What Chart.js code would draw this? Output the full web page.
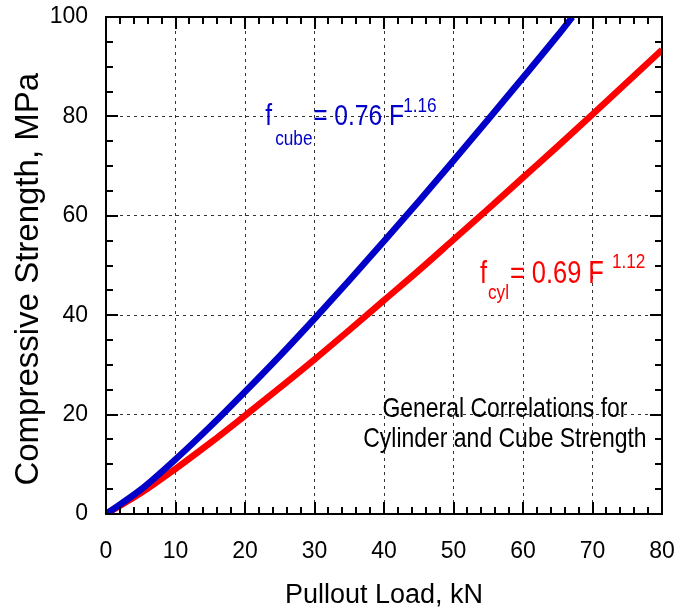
<!DOCTYPE html>
<html>
<head>
<meta charset="utf-8">
<title>Pullout load vs compressive strength</title>
<script src="https://cdn.jsdelivr.net/npm/chart.js@4.4.1/dist/chart.umd.min.js"></script>
<style>
  html, body { margin: 0; padding: 0; background: #fff; }
  #wrap { width: 687px; height: 609px; position: relative; }
</style>
</head>
<body>
<div id="wrap"><canvas id="chart"></canvas></div>
<script>
// === Data ===
const cubeLoad     = [0, 5, 10, 15, 20, 25, 30, 35, 40, 45, 50, 55, 60, 65, 67.1];
const cubeStrength = [0, 4.9, 11.0, 17.6, 24.6, 31.8, 39.3, 47.0, 54.9, 62.9, 71.1, 79.4, 87.8, 96.3, 100];

const cylLoad      = [0, 5, 10, 15, 20, 25, 30, 35, 40, 45, 50, 55, 60, 65, 70, 75, 80];
const cylStrength  = [0, 4.2, 9.1, 14.3, 19.8, 25.4, 31.1, 37.0, 43.0, 49.0, 55.2, 61.4, 67.7, 74.0, 80.4, 86.9, 93.4];

const xTitle = 'Pullout Load, kN';
const yTitle = 'Compressive Strength, MPa';
const noteLines = ['General Correlations for', 'Cylinder and Cube Strength'];

const BLUE = '#0000c8';
const RED = '#ff0000';
const SANS = "'Liberation Sans', Arial, sans-serif";
const SQUEEZE = 0.82; // the original text is a narrow face

const toPoints = (xs, ys) => xs.map((x, i) => ({ x, y: ys[i] }));

// === Helpers ===
function gridColor(ctx) {
  const s = ctx.scale;
  if (!ctx.tick) return 'transparent';
  return (ctx.tick.value <= s.min || ctx.tick.value >= s.max) ? 'transparent' : '#333';
}

// frame + inward tick marks on all four sides
const frameTicks = {
  id: 'frameTicks',
  afterDatasetsDraw(chart) {
    const { ctx, chartArea: a, scales: { x, y } } = chart;
    ctx.save();
    ctx.strokeStyle = '#000';
    ctx.lineWidth = 2;
    ctx.beginPath();
    for (let v = x.min; v <= x.max; v += 2) {
      const px = Math.round(x.getPixelForValue(v));
      const len = v % 10 === 0 ? 12 : 7;
      ctx.moveTo(px, a.bottom); ctx.lineTo(px, a.bottom - len);
      ctx.moveTo(px, a.top); ctx.lineTo(px, a.top + len);
    }
    for (let v = y.min; v <= y.max; v += 5) {
      const py = Math.round(y.getPixelForValue(v));
      const len = v % 20 === 0 ? 12 : 7;
      ctx.moveTo(a.left, py); ctx.lineTo(a.left + len, py);
      ctx.moveTo(a.right, py); ctx.lineTo(a.right - len, py);
    }
    ctx.stroke();
    ctx.strokeRect(a.left, a.top, a.right - a.left, a.bottom - a.top);
    ctx.restore();
  }
};

// narrow text: squeeze horizontally
function narrowText(ctx, txt, px, py, size, align) {
  ctx.save();
  ctx.translate(px, py);
  ctx.scale(SQUEEZE, 1);
  ctx.font = `${size}px ${SANS}`;
  ctx.textAlign = align || 'left';
  ctx.textBaseline = 'alphabetic';
  ctx.fillText(txt, 0, 0);
  ctx.restore();
}

function formula(ctx, x0, y0, color, base, sub, rest, sup, o) {
  ctx.fillStyle = color;
  narrowText(ctx, base, x0, y0, o.big);
  narrowText(ctx, rest, x0 + o.restDx, y0, o.big);
  narrowText(ctx, sub, x0 + o.subDx, y0 + o.subDy, o.small);
  narrowText(ctx, sup, x0 + o.supDx, y0 + o.supDy, o.small);
}

const notes = {
  id: 'notes',
  afterDatasetsDraw(chart) {
    const { ctx, scales: { x, y } } = chart;
    ctx.save();
    formula(ctx, x.getPixelForValue(22.9), y.getPixelForValue(78.3), BLUE,
      'f', 'cube', '= 0.76 F', '1.16',
      { big: 30, small: 21, subDx: 10, subDy: 20, restDx: 48, supDx: 138, supDy: -13 });
    formula(ctx, x.getPixelForValue(53.8), y.getPixelForValue(46.5), RED,
      'f', 'cyl', '= 0.69 F', '1.12',
      { big: 31, small: 21, subDx: 8, subDy: 16, restDx: 30, supDx: 132, supDy: -15 });

    ctx.fillStyle = '#000';
    narrowText(ctx, noteLines[0], x.getPixelForValue(57.4), y.getPixelForValue(19.5), 28, 'center');
    narrowText(ctx, noteLines[1], x.getPixelForValue(57.4), y.getPixelForValue(13.4), 28, 'center');
    ctx.restore();
  }
};

// === Chart ===
new Chart(document.getElementById('chart'), {
  type: 'line',
  data: {
    datasets: [
      { label: 'cube', data: toPoints(cubeLoad, cubeStrength), borderColor: BLUE, borderWidth: 6.5, pointRadius: 0, cubicInterpolationMode: 'monotone', clip: 0 },
      { label: 'cyl', data: toPoints(cylLoad, cylStrength), borderColor: RED, borderWidth: 6.5, pointRadius: 0, cubicInterpolationMode: 'monotone', clip: 0 }
    ]
  },
  options: {
    responsive: true,
    maintainAspectRatio: false,
    animation: false,
    layout: { padding: { top: 17, right: 25, left: 0, bottom: 0 } },
    plugins: { legend: { display: false }, tooltip: { enabled: false } },
    scales: {
      x: {
        type: 'linear', min: 0, max: 80,
        ticks: { stepSize: 10, color: '#000', padding: 24, font: { family: SANS, size: 23 } },
        grid: { color: gridColor, lineWidth: 1, drawTicks: false },
        border: { display: false, dash: [3, 4] },
        title: { display: true, text: xTitle, color: '#000', padding: 0, font: { family: SANS, size: 27, lineHeight: 1 } },
        afterFit(s) { s.height = 95; s.paddingLeft = 0; s.paddingRight = 0; }
      },
      y: {
        type: 'linear', min: 0, max: 100,
        ticks: { stepSize: 20, color: '#000', padding: 18, font: { family: SANS, size: 23 } },
        grid: { color: gridColor, lineWidth: 1, drawTicks: false },
        border: { display: false, dash: [3, 4] },
        title: { display: true, text: yTitle + '   ', color: '#000', padding: { top: 12 }, font: { family: SANS, size: 33, lineHeight: 1 } },
        afterFit(s) { s.width = 106; s.paddingTop = 0; s.paddingBottom = 0; }
      }
    }
  },
  plugins: [frameTicks, notes]
});
</script>
</body>
</html>
